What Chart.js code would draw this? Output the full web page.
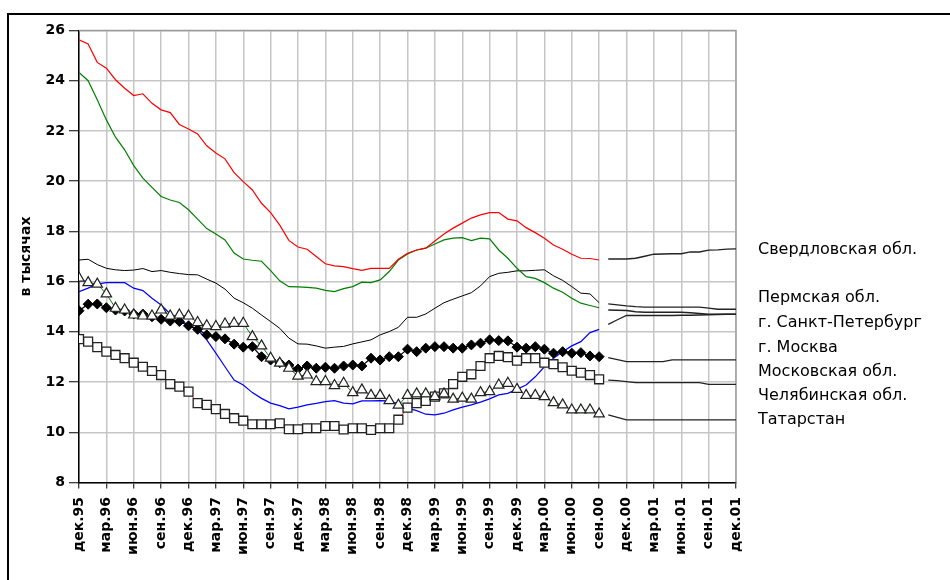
<!DOCTYPE html>
<html>
<head>
<meta charset="utf-8">
<script src="https://cdn.jsdelivr.net/npm/chart.js@4.4.1/dist/chart.umd.min.js"></script>
<style>
    html, body { margin: 0; padding: 0; background: #fff; }
    #wrap { position: relative; width: 950px; height: 580px; overflow: hidden; }
    #wrap canvas { position: absolute; left: 0; top: 0; }
    #frame { position: absolute; left: 7px; top: 13px; width: 1000px; height: 1000px;
             border-left: 2px solid #000; border-top: 2px solid #000; pointer-events: none; }
</style>
</head>
<body>
<div id="wrap">
    <canvas id="chart" width="950" height="580"></canvas>
    <div id="frame"></div>
</div>
<script>
// months counted from дек.95 (0) to дек.01 (72), tick every 3 months
const xTickLabels = ['дек.95', 'мар.96', 'июн.96', 'сен.96', 'дек.96', 'мар.97', 'июн.97', 'сен.97',
    'дек.97', 'мар.98', 'июн.98', 'сен.98', 'дек.98', 'мар.99', 'июн.99', 'сен.99',
    'дек.99', 'мар.00', 'июн.00', 'сен.00', 'дек.00', 'мар.01', 'июн.01', 'сен.01', 'дек.01'];
const yTicks = [8, 10, 12, 14, 16, 18, 20, 22, 24, 26];
const forecastStart = 58;

// дек.95 .. сен.00
const redVals = [25.63, 25.46, 24.73, 24.50, 24.04, 23.70, 23.41, 23.48, 23.10, 22.84,
    22.73, 22.26, 22.08, 21.88, 21.41, 21.12, 20.89, 20.34, 19.98, 19.65,
    19.12, 18.75, 18.25, 17.64, 17.38, 17.29, 17.00, 16.71, 16.63, 16.60,
    16.52, 16.45, 16.53, 16.53, 16.53, 16.89, 17.13, 17.26, 17.33, 17.62,
    17.90, 18.13, 18.33, 18.53, 18.66, 18.75, 18.75, 18.49, 18.42, 18.15,
    17.95, 17.73, 17.46, 17.29, 17.09, 16.93, 16.92, 16.86];
const greenVals = [24.33, 24.00, 23.24, 22.44, 21.75, 21.25, 20.62, 20.12, 19.75, 19.39,
    19.25, 19.15, 18.86, 18.49, 18.11, 17.90, 17.66, 17.14, 16.90, 16.85,
    16.81, 16.44, 16.03, 15.80, 15.79, 15.77, 15.74, 15.65, 15.60, 15.72,
    15.80, 15.98, 15.96, 16.07, 16.40, 16.86, 17.10, 17.26, 17.33, 17.50,
    17.66, 17.73, 17.75, 17.63, 17.73, 17.70, 17.26, 16.93, 16.53, 16.20,
    16.13, 15.96, 15.74, 15.58, 15.34, 15.14, 15.05, 14.96];
const blackVals = [16.86, 16.89, 16.68, 16.53, 16.47, 16.44, 16.46, 16.52, 16.40, 16.44,
    16.37, 16.32, 16.28, 16.27, 16.10, 15.94, 15.70, 15.34, 15.16, 14.94,
    14.67, 14.41, 14.14, 13.75, 13.52, 13.51, 13.44, 13.35, 13.39, 13.42,
    13.52, 13.60, 13.68, 13.88, 14.01, 14.18, 14.58, 14.58, 14.71, 14.94,
    15.16, 15.30, 15.43, 15.56, 15.83, 16.20, 16.33, 16.37, 16.43, 16.43,
    16.45, 16.47, 16.23, 16.05, 15.80, 15.54, 15.51, 15.16];
const blueVals = [15.60, 15.74, 15.90, 15.96, 15.96, 15.96, 15.74, 15.64, 15.34, 15.07,
    14.71, 14.51, 14.25, 14.08, 13.68, 13.15, 12.61, 12.08, 11.88, 11.58,
    11.35, 11.16, 11.06, 10.93, 11.00, 11.09, 11.15, 11.22, 11.26, 11.16,
    11.13, 11.25, 11.25, 11.26, 11.25, 11.13, 10.96, 10.86, 10.72, 10.69,
    10.76, 10.89, 11.00, 11.09, 11.20, 11.33, 11.49, 11.55, 11.72, 11.88,
    12.21, 12.61, 12.95, 13.21, 13.44, 13.61, 13.97, 14.10];
const diamondVals = [14.84, 15.10, 15.11, 14.96, 14.87, 14.83, 14.71, 14.71, 14.60, 14.50,
    14.43, 14.41, 14.24, 14.10, 13.88, 13.81, 13.72, 13.51, 13.39, 13.41,
    13.01, 12.88, 12.77, 12.68, 12.52, 12.64, 12.55, 12.59, 12.55, 12.64,
    12.68, 12.64, 12.95, 12.88, 13.01, 13.01, 13.31, 13.21, 13.35, 13.41,
    13.41, 13.35, 13.35, 13.48, 13.55, 13.68, 13.65, 13.64, 13.39, 13.35,
    13.41, 13.31, 13.15, 13.21, 13.15, 13.17, 13.04, 13.01];
const squareVals = [13.71, 13.61, 13.39, 13.21, 13.08, 12.95, 12.77, 12.61, 12.44, 12.28,
    11.92, 11.82, 11.62, 11.16, 11.09, 10.92, 10.73, 10.56, 10.46, 10.32,
    10.32, 10.32, 10.36, 10.12, 10.12, 10.16, 10.16, 10.25, 10.25, 10.11,
    10.16, 10.16, 10.09, 10.16, 10.16, 10.50, 10.98, 11.16, 11.25, 11.42,
    11.55, 11.92, 12.21, 12.31, 12.64, 12.95, 13.04, 12.99, 12.85, 12.95,
    12.95, 12.77, 12.71, 12.59, 12.45, 12.37, 12.28, 12.11];
const triangleVals = [16.14, 15.96, 15.90, 15.51, 14.94, 14.87, 14.67, 14.63, 14.63, 14.87,
    14.63, 14.67, 14.63, 14.37, 14.24, 14.21, 14.31, 14.34, 14.34, 13.81,
    13.44, 12.95, 12.75, 12.55, 12.24, 12.28, 12.02, 12.02, 11.86, 11.95,
    11.58, 11.69, 11.47, 11.47, 11.26, 11.08, 11.47, 11.53, 11.53, 11.42,
    11.53, 11.32, 11.36, 11.32, 11.58, 11.62, 11.88, 11.95, 11.71, 11.47,
    11.47, 11.42, 11.18, 11.09, 10.89, 10.89, 10.89, 10.73];

// окт.00 .. дек.01
const forecastVals = [
    [16.90, 16.90, 16.90, 16.93, 17.01, 17.09, 17.10, 17.11, 17.11, 17.18, 17.18, 17.25, 17.26, 17.29, 17.30],
    [15.11, 15.07, 15.03, 15.00, 14.98, 14.98, 14.98, 14.98, 14.98, 14.98, 14.98, 14.94, 14.90, 14.90, 14.90],
    [14.87, 14.86, 14.85, 14.80, 14.78, 14.78, 14.78, 14.78, 14.78, 14.76, 14.73, 14.70, 14.70, 14.70, 14.70],
    [14.30, 14.48, 14.65, 14.65, 14.65, 14.65, 14.65, 14.65, 14.66, 14.66, 14.67, 14.68, 14.69, 14.70, 14.70],
    [12.97, 12.89, 12.81, 12.81, 12.81, 12.81, 12.81, 12.88, 12.88, 12.88, 12.88, 12.88, 12.88, 12.88, 12.88],
    [12.08, 12.06, 12.02, 11.98, 11.98, 11.98, 11.98, 11.98, 11.98, 11.98, 11.98, 11.91, 11.91, 11.91, 11.91],
    [10.69, 10.59, 10.49, 10.49, 10.49, 10.49, 10.49, 10.49, 10.49, 10.49, 10.49, 10.49, 10.49, 10.49, 10.49],
];

const regionNames = ['Свердловская обл.', 'Пермская обл.', 'г. Санкт-Петербург', 'г. Москва',
    'Московская обл.', 'Челябинская обл.', 'Татарстан'];
// where each name sits on the value axis
const regionLabelY = [17.26, 15.35, 14.37, 13.37, 12.41, 11.45, 10.49];

const pts = (vals, start) => vals.map((v, i) => ({ x: start + i, y: v }));

function lineSet(vals, color, extra) {
    return Object.assign({
        data: pts(vals, 0),
        borderColor: color,
        borderWidth: 1.2,
        pointRadius: 0,
        order: 3,
    }, extra || {});
}

const datasets = [
    lineSet(redVals, '#ff0000'),
    lineSet(greenVals, '#008000'),
    lineSet(blackVals, '#000000', { borderWidth: 1 }),
    lineSet(blueVals, '#0000ff'),
    lineSet(diamondVals, '#000000', {
        pointStyle: 'rectRot', pointRadius: 5, pointBackgroundColor: '#000', pointBorderColor: '#000',
        pointBorderWidth: 1, order: 2,
    }),
    lineSet(squareVals, '#ff0000', {
        borderWidth: 1, pointStyle: 'rect', pointRadius: 6.3, pointBackgroundColor: '#fff',
        pointBorderColor: '#222', pointBorderWidth: 1.3, order: 1,
    }),
    lineSet(triangleVals, '#008000', {
        borderWidth: 1, pointStyle: 'triangle', pointRadius: 6, pointBackgroundColor: '#fff',
        pointBorderColor: '#222', pointBorderWidth: 1.2, order: 0,
    }),
].concat(forecastVals.map(vals => ({
    data: pts(vals, forecastStart),
    borderColor: '#222',
    borderWidth: 1.3,
    pointRadius: 0,
    order: 3,
})));

const plotFrame = {
    id: 'plotFrame',
    beforeDatasetsDraw(chart) {
        const { ctx, chartArea: a } = chart;
        ctx.save();
        ctx.strokeStyle = '#9a9a9a';
        ctx.lineWidth = 1.3;
        ctx.beginPath();
        ctx.moveTo(a.left, a.top);
        ctx.lineTo(a.right, a.top);
        ctx.lineTo(a.right, a.bottom);
        ctx.stroke();
        ctx.restore();
    }
};

const regionLabels = {
    id: 'regionLabels',
    afterDraw(chart) {
        const { ctx, chartArea: a, scales: { y } } = chart;
        ctx.save();
        ctx.font = '16px "DejaVu Sans"';
        ctx.fillStyle = '#000';
        ctx.textAlign = 'left';
        ctx.textBaseline = 'middle';
        regionNames.forEach((name, i) => {
            ctx.fillText(name, a.right + 22, y.getPixelForValue(regionLabelY[i]));
        });
        ctx.restore();
    }
};

new Chart(document.getElementById('chart'), {
    type: 'line',
    data: { datasets },
    plugins: [plotFrame, regionLabels],
    options: {
        responsive: false,
        animation: false,
        devicePixelRatio: 1,
        layout: { padding: { left: 0, top: 30.5, right: 214, bottom: 22.5 } },
        elements: { line: { tension: 0 } },
        plugins: { legend: { display: false }, tooltip: { enabled: false } },
        scales: {
            x: {
                type: 'linear',
                min: 0,
                max: 72,
                afterFit: s => { s.height = 75; },
                afterBuildTicks: s => { s.ticks = xTickLabels.map((_, i) => ({ value: i * 3 })); },
                ticks: {
                    autoSkip: false,
                    minRotation: 90,
                    maxRotation: 90,
                    padding: 8.5,
                    color: '#000',
                    font: { family: 'DejaVu Sans', size: 14, weight: 'bold' },
                    callback: v => xTickLabels[v / 3],
                },
                grid: { color: '#c6c6c6', lineWidth: 1.5, tickColor: '#000', tickLength: 6, tickWidth: 1 },
                border: { color: '#000', width: 1.5 },
            },
            y: {
                min: 8,
                max: 26,
                afterFit: s => { s.width = 79; },
                afterBuildTicks: s => { s.ticks = yTicks.map(v => ({ value: v })); },
                ticks: {
                    padding: 4,
                    color: '#000',
                    font: { family: 'DejaVu Sans', size: 14, weight: 'bold' },
                },
                grid: { color: '#c6c6c6', lineWidth: 1.5, tickColor: '#000', tickLength: 10, tickWidth: 1 },
                border: { color: '#000', width: 1.5 },
                title: {
                    display: true,
                    text: 'в тысячах',
                    color: '#000',
                    font: { family: 'DejaVu Sans', size: 14, weight: 'bold' },
                    padding: { top: 17.5, bottom: 0 },
                },
            },
        },
    },
});
</script>
</body>
</html>
